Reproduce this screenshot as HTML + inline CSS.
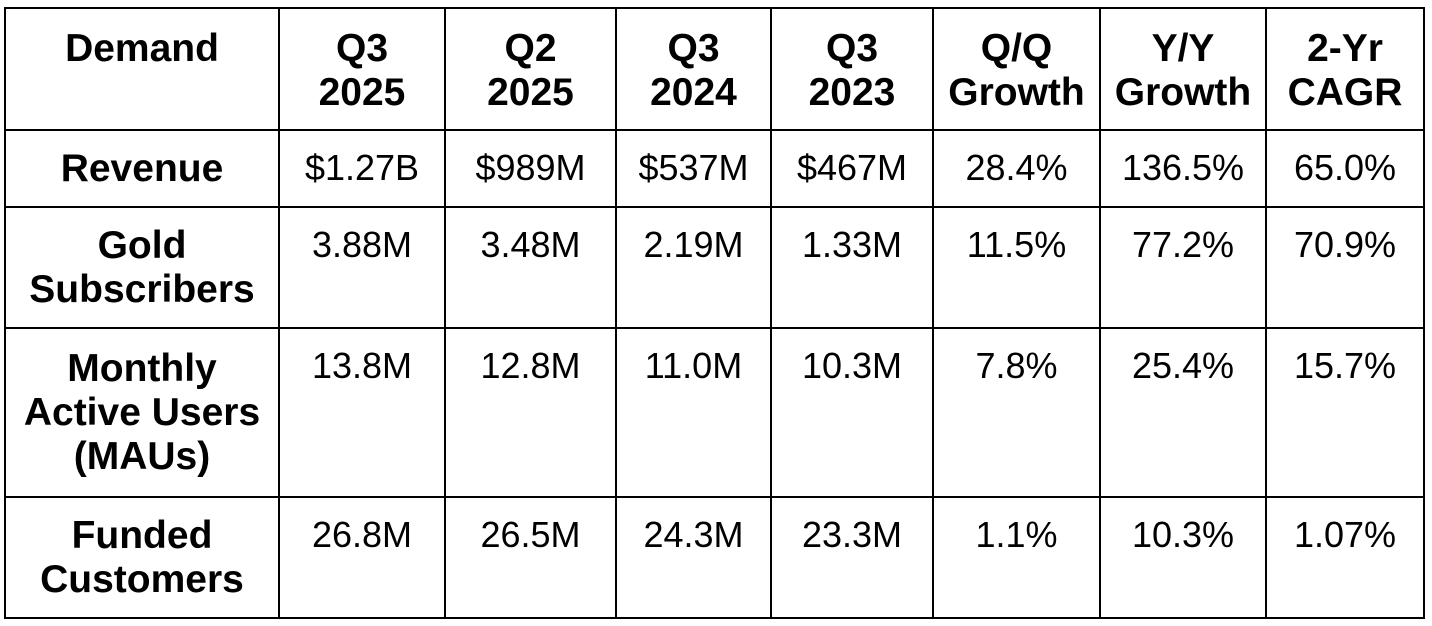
<!DOCTYPE html>
<html><head><meta charset="utf-8"><style>
html,body{margin:0;padding:0;background:#fff;width:1432px;height:626px;overflow:hidden}
table{position:absolute;left:4px;top:7px;border-collapse:collapse;table-layout:fixed;font-family:"Liberation Sans",Arial,sans-serif;color:#000}
td{border:2px solid #000;text-align:center;vertical-align:top;padding:15px 0 0 0;font-size:36px;line-height:44px;box-sizing:border-box}
tr.h td{font-weight:bold;font-size:39px;vertical-align:top;padding:18px 0 0 0}
td.l{font-weight:bold;font-size:39px;vertical-align:middle;padding:0}
</style></head><body>
<table>
<colgroup><col style="width:274px"><col style="width:166px"><col style="width:171px"><col style="width:155px"><col style="width:162px"><col style="width:167px"><col style="width:166px"><col style="width:158px"></colgroup>
<tr class="h" style="height:122px"><td>Demand</td><td>Q3<br>2025</td><td>Q2<br>2025</td><td>Q3<br>2024</td><td>Q3<br>2023</td><td>Q/Q<br>Growth</td><td>Y/Y<br>Growth</td><td>2-Yr<br>CAGR</td></tr>
<tr style="height:77px"><td class="l">Revenue</td><td>$1.27B</td><td>$989M</td><td>$537M</td><td>$467M</td><td>28.4%</td><td>136.5%</td><td>65.0%</td></tr>
<tr style="height:121px"><td class="l">Gold<br>Subscribers</td><td>3.88M</td><td>3.48M</td><td>2.19M</td><td>1.33M</td><td>11.5%</td><td>77.2%</td><td>70.9%</td></tr>
<tr style="height:169px"><td class="l">Monthly<br>Active Users<br>(MAUs)</td><td>13.8M</td><td>12.8M</td><td>11.0M</td><td>10.3M</td><td>7.8%</td><td>25.4%</td><td>15.7%</td></tr>
<tr style="height:121px"><td class="l">Funded<br>Customers</td><td>26.8M</td><td>26.5M</td><td>24.3M</td><td>23.3M</td><td>1.1%</td><td>10.3%</td><td>1.07%</td></tr>
</table>
</body></html>
